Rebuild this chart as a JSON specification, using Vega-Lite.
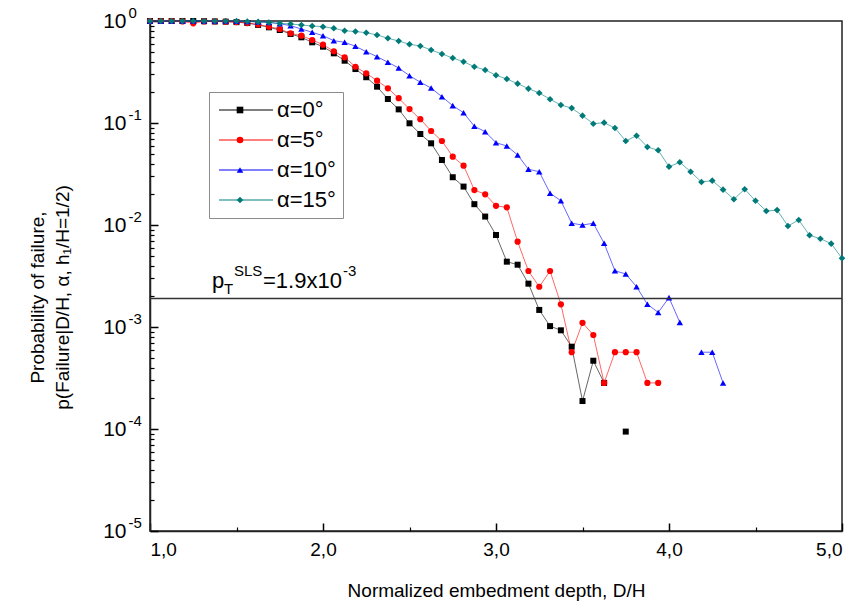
{
"$schema": "https://vega.github.io/schema/vega-lite/v6.json",
"width": 692, "height": 510,
"autosize": {"type": "none"},
"padding": {"left": 150, "top": 21, "right": 17, "bottom": 79},
"config": {"font": "Liberation Sans", "view": {"stroke": "#222222", "strokeWidth": 1.5}},
"datasets": {"one": [{}]},
"data": {"values": [
{"D":1,"p":1,"s":"α=0°","n":0},{"D":1.0625,"p":1,"s":"α=0°","n":0},{"D":1.125,"p":1,"s":"α=0°","n":0},{"D":1.1875,"p":1,"s":"α=0°","n":0},{"D":1.25,"p":1,"s":"α=0°","n":0},{"D":1.3125,"p":0.995,"s":"α=0°","n":0},{"D":1.375,"p":0.99,"s":"α=0°","n":0},{"D":1.4375,"p":0.985,"s":"α=0°","n":0},{"D":1.5,"p":0.975,"s":"α=0°","n":0},{"D":1.5625,"p":0.955,"s":"α=0°","n":0},{"D":1.625,"p":0.915,"s":"α=0°","n":0},{"D":1.6875,"p":0.867,"s":"α=0°","n":0},{"D":1.75,"p":0.816,"s":"α=0°","n":0},{"D":1.8125,"p":0.746,"s":"α=0°","n":0},{"D":1.875,"p":0.692,"s":"α=0°","n":0},{"D":1.9375,"p":0.618,"s":"α=0°","n":0},{"D":2,"p":0.56,"s":"α=0°","n":0},{"D":2.0625,"p":0.482,"s":"α=0°","n":0},{"D":2.125,"p":0.408,"s":"α=0°","n":0},{"D":2.1875,"p":0.338,"s":"α=0°","n":0},{"D":2.25,"p":0.281,"s":"α=0°","n":0},{"D":2.3125,"p":0.227,"s":"α=0°","n":0},{"D":2.375,"p":0.172,"s":"α=0°","n":0},{"D":2.4375,"p":0.136,"s":"α=0°","n":0},{"D":2.5,"p":0.0993,"s":"α=0°","n":0},{"D":2.5625,"p":0.078,"s":"α=0°","n":0},{"D":2.625,"p":0.0632,"s":"α=0°","n":0},{"D":2.6875,"p":0.0434,"s":"α=0°","n":0},{"D":2.75,"p":0.0294,"s":"α=0°","n":0},{"D":2.8125,"p":0.0238,"s":"α=0°","n":0},{"D":2.875,"p":0.016,"s":"α=0°","n":0},{"D":2.9375,"p":0.0121,"s":"α=0°","n":0},{"D":3,"p":0.00798,"s":"α=0°","n":0},{"D":3.0625,"p":0.00437,"s":"α=0°","n":0},{"D":3.125,"p":0.00408,"s":"α=0°","n":0},{"D":3.1875,"p":0.00266,"s":"α=0°","n":0},{"D":3.25,"p":0.00147,"s":"α=0°","n":0},{"D":3.3125,"p":0.00102,"s":"α=0°","n":0},{"D":3.375,"p":0.000928,"s":"α=0°","n":0},{"D":3.4375,"p":0.000641,"s":"α=0°","n":0},{"D":3.5,"p":0.000188,"s":"α=0°","n":0},{"D":3.5625,"p":0.000467,"s":"α=0°","n":0},{"D":3.625,"p":0.000283,"s":"α=0°","n":0},{"D":3.6875,"p":null,"s":"α=0°","n":0},{"D":3.75,"p":0.0000943,"s":"α=0°","n":0},
{"D":1,"p":1,"s":"α=5°","n":5},{"D":1.0625,"p":1,"s":"α=5°","n":5},{"D":1.125,"p":1,"s":"α=5°","n":5},{"D":1.1875,"p":0.99,"s":"α=5°","n":5},{"D":1.25,"p":0.95,"s":"α=5°","n":5},{"D":1.3125,"p":0.99,"s":"α=5°","n":5},{"D":1.375,"p":0.99,"s":"α=5°","n":5},{"D":1.4375,"p":0.985,"s":"α=5°","n":5},{"D":1.5,"p":0.975,"s":"α=5°","n":5},{"D":1.5625,"p":0.955,"s":"α=5°","n":5},{"D":1.625,"p":0.925,"s":"α=5°","n":5},{"D":1.6875,"p":0.88,"s":"α=5°","n":5},{"D":1.75,"p":0.835,"s":"α=5°","n":5},{"D":1.8125,"p":0.757,"s":"α=5°","n":5},{"D":1.875,"p":0.718,"s":"α=5°","n":5},{"D":1.9375,"p":0.651,"s":"α=5°","n":5},{"D":2,"p":0.586,"s":"α=5°","n":5},{"D":2.0625,"p":0.505,"s":"α=5°","n":5},{"D":2.125,"p":0.441,"s":"α=5°","n":5},{"D":2.1875,"p":0.356,"s":"α=5°","n":5},{"D":2.25,"p":0.307,"s":"α=5°","n":5},{"D":2.3125,"p":0.26,"s":"α=5°","n":5},{"D":2.375,"p":0.219,"s":"α=5°","n":5},{"D":2.4375,"p":0.175,"s":"α=5°","n":5},{"D":2.5,"p":0.137,"s":"α=5°","n":5},{"D":2.5625,"p":0.109,"s":"α=5°","n":5},{"D":2.625,"p":0.0835,"s":"α=5°","n":5},{"D":2.6875,"p":0.0666,"s":"α=5°","n":5},{"D":2.75,"p":0.0468,"s":"α=5°","n":5},{"D":2.8125,"p":0.0382,"s":"α=5°","n":5},{"D":2.875,"p":0.022,"s":"α=5°","n":5},{"D":2.9375,"p":0.02,"s":"α=5°","n":5},{"D":3,"p":0.0154,"s":"α=5°","n":5},{"D":3.0625,"p":0.0149,"s":"α=5°","n":5},{"D":3.125,"p":0.00686,"s":"α=5°","n":5},{"D":3.1875,"p":0.00354,"s":"α=5°","n":5},{"D":3.25,"p":0.00248,"s":"α=5°","n":5},{"D":3.3125,"p":0.00354,"s":"α=5°","n":5},{"D":3.375,"p":0.00167,"s":"α=5°","n":5},{"D":3.4375,"p":0.000566,"s":"α=5°","n":5},{"D":3.5,"p":0.0011,"s":"α=5°","n":5},{"D":3.5625,"p":0.000835,"s":"α=5°","n":5},{"D":3.625,"p":0.000283,"s":"α=5°","n":5},{"D":3.6875,"p":0.000566,"s":"α=5°","n":5},{"D":3.75,"p":0.000566,"s":"α=5°","n":5},{"D":3.8125,"p":0.000566,"s":"α=5°","n":5},{"D":3.875,"p":0.000283,"s":"α=5°","n":5},{"D":3.9375,"p":0.000283,"s":"α=5°","n":5},
{"D":1,"p":1,"s":"α=10°","n":10},{"D":1.0625,"p":1,"s":"α=10°","n":10},{"D":1.125,"p":1,"s":"α=10°","n":10},{"D":1.1875,"p":1,"s":"α=10°","n":10},{"D":1.25,"p":1,"s":"α=10°","n":10},{"D":1.3125,"p":1,"s":"α=10°","n":10},{"D":1.375,"p":1,"s":"α=10°","n":10},{"D":1.4375,"p":1,"s":"α=10°","n":10},{"D":1.5,"p":0.995,"s":"α=10°","n":10},{"D":1.5625,"p":0.99,"s":"α=10°","n":10},{"D":1.625,"p":0.98,"s":"α=10°","n":10},{"D":1.6875,"p":0.97,"s":"α=10°","n":10},{"D":1.75,"p":0.94,"s":"α=10°","n":10},{"D":1.8125,"p":0.9,"s":"α=10°","n":10},{"D":1.875,"p":0.835,"s":"α=10°","n":10},{"D":1.9375,"p":0.775,"s":"α=10°","n":10},{"D":2,"p":0.718,"s":"α=10°","n":10},{"D":2.0625,"p":0.641,"s":"α=10°","n":10},{"D":2.125,"p":0.618,"s":"α=10°","n":10},{"D":2.1875,"p":0.565,"s":"α=10°","n":10},{"D":2.25,"p":0.5,"s":"α=10°","n":10},{"D":2.3125,"p":0.447,"s":"α=10°","n":10},{"D":2.375,"p":0.394,"s":"α=10°","n":10},{"D":2.4375,"p":0.346,"s":"α=10°","n":10},{"D":2.5,"p":0.291,"s":"α=10°","n":10},{"D":2.5625,"p":0.251,"s":"α=10°","n":10},{"D":2.625,"p":0.22,"s":"α=10°","n":10},{"D":2.6875,"p":0.181,"s":"α=10°","n":10},{"D":2.75,"p":0.148,"s":"α=10°","n":10},{"D":2.8125,"p":0.126,"s":"α=10°","n":10},{"D":2.875,"p":0.0929,"s":"α=10°","n":10},{"D":2.9375,"p":0.0822,"s":"α=10°","n":10},{"D":3,"p":0.0641,"s":"α=10°","n":10},{"D":3.0625,"p":0.0595,"s":"α=10°","n":10},{"D":3.125,"p":0.0486,"s":"α=10°","n":10},{"D":3.1875,"p":0.0352,"s":"α=10°","n":10},{"D":3.25,"p":0.0333,"s":"α=10°","n":10},{"D":3.3125,"p":0.0205,"s":"α=10°","n":10},{"D":3.375,"p":0.0173,"s":"α=10°","n":10},{"D":3.4375,"p":0.0104,"s":"α=10°","n":10},{"D":3.5,"p":0.01,"s":"α=10°","n":10},{"D":3.5625,"p":0.0104,"s":"α=10°","n":10},{"D":3.625,"p":0.00662,"s":"α=10°","n":10},{"D":3.6875,"p":0.00356,"s":"α=10°","n":10},{"D":3.75,"p":0.00331,"s":"α=10°","n":10},{"D":3.8125,"p":0.00248,"s":"α=10°","n":10},{"D":3.875,"p":0.00167,"s":"α=10°","n":10},{"D":3.9375,"p":0.00139,"s":"α=10°","n":10},{"D":4,"p":0.00194,"s":"α=10°","n":10},{"D":4.0625,"p":0.00111,"s":"α=10°","n":10},{"D":4.125,"p":null,"s":"α=10°","n":10},{"D":4.1875,"p":0.000566,"s":"α=10°","n":10},{"D":4.25,"p":0.000566,"s":"α=10°","n":10},{"D":4.3125,"p":0.000283,"s":"α=10°","n":10},
{"D":1,"p":1,"s":"α=15°","n":15},{"D":1.0625,"p":1,"s":"α=15°","n":15},{"D":1.125,"p":1,"s":"α=15°","n":15},{"D":1.1875,"p":1,"s":"α=15°","n":15},{"D":1.25,"p":1,"s":"α=15°","n":15},{"D":1.3125,"p":1,"s":"α=15°","n":15},{"D":1.375,"p":1,"s":"α=15°","n":15},{"D":1.4375,"p":1,"s":"α=15°","n":15},{"D":1.5,"p":1,"s":"α=15°","n":15},{"D":1.5625,"p":0.99,"s":"α=15°","n":15},{"D":1.625,"p":0.98,"s":"α=15°","n":15},{"D":1.6875,"p":0.965,"s":"α=15°","n":15},{"D":1.75,"p":0.949,"s":"α=15°","n":15},{"D":1.8125,"p":0.935,"s":"α=15°","n":15},{"D":1.875,"p":0.914,"s":"α=15°","n":15},{"D":1.9375,"p":0.893,"s":"α=15°","n":15},{"D":2,"p":0.879,"s":"α=15°","n":15},{"D":2.0625,"p":0.848,"s":"α=15°","n":15},{"D":2.125,"p":0.803,"s":"α=15°","n":15},{"D":2.1875,"p":0.789,"s":"α=15°","n":15},{"D":2.25,"p":0.768,"s":"α=15°","n":15},{"D":2.3125,"p":0.729,"s":"α=15°","n":15},{"D":2.375,"p":0.677,"s":"α=15°","n":15},{"D":2.4375,"p":0.637,"s":"α=15°","n":15},{"D":2.5,"p":0.591,"s":"α=15°","n":15},{"D":2.5625,"p":0.569,"s":"α=15°","n":15},{"D":2.625,"p":0.52,"s":"α=15°","n":15},{"D":2.6875,"p":0.475,"s":"α=15°","n":15},{"D":2.75,"p":0.434,"s":"α=15°","n":15},{"D":2.8125,"p":0.399,"s":"α=15°","n":15},{"D":2.875,"p":0.356,"s":"α=15°","n":15},{"D":2.9375,"p":0.331,"s":"α=15°","n":15},{"D":3,"p":0.294,"s":"α=15°","n":15},{"D":3.0625,"p":0.27,"s":"α=15°","n":15},{"D":3.125,"p":0.243,"s":"α=15°","n":15},{"D":3.1875,"p":0.217,"s":"α=15°","n":15},{"D":3.25,"p":0.197,"s":"α=15°","n":15},{"D":3.3125,"p":0.171,"s":"α=15°","n":15},{"D":3.375,"p":0.15,"s":"α=15°","n":15},{"D":3.4375,"p":0.14,"s":"α=15°","n":15},{"D":3.5,"p":0.118,"s":"α=15°","n":15},{"D":3.5625,"p":0.0984,"s":"α=15°","n":15},{"D":3.625,"p":0.1007,"s":"α=15°","n":15},{"D":3.6875,"p":0.0893,"s":"α=15°","n":15},{"D":3.75,"p":0.0666,"s":"α=15°","n":15},{"D":3.8125,"p":0.075,"s":"α=15°","n":15},{"D":3.875,"p":0.0582,"s":"α=15°","n":15},{"D":3.9375,"p":0.054,"s":"α=15°","n":15},{"D":4,"p":0.0373,"s":"α=15°","n":15},{"D":4.0625,"p":0.0412,"s":"α=15°","n":15},{"D":4.125,"p":0.0333,"s":"α=15°","n":15},{"D":4.1875,"p":0.0264,"s":"α=15°","n":15},{"D":4.25,"p":0.0272,"s":"α=15°","n":15},{"D":4.3125,"p":0.0222,"s":"α=15°","n":15},{"D":4.375,"p":0.0179,"s":"α=15°","n":15},{"D":4.4375,"p":0.0224,"s":"α=15°","n":15},{"D":4.5,"p":0.0173,"s":"α=15°","n":15},{"D":4.5625,"p":0.0137,"s":"α=15°","n":15},{"D":4.625,"p":0.014,"s":"α=15°","n":15},{"D":4.6875,"p":0.00977,"s":"α=15°","n":15},{"D":4.75,"p":0.0112,"s":"α=15°","n":15},{"D":4.8125,"p":0.00793,"s":"α=15°","n":15},{"D":4.875,"p":0.00734,"s":"α=15°","n":15},{"D":4.9375,"p":0.00656,"s":"α=15°","n":15},{"D":5,"p":0.00472,"s":"α=15°","n":15}
]},
"layer": [
{"mark": {"type": "line", "strokeWidth": 1, "strokeOpacity": 0.6, "invalid": "break-paths-filter-domains"},
 "encoding": {
  "x": {"field": "D", "type": "quantitative", "scale": {"domain": [1, 5], "nice": false, "zero": false},
        "axis": {"values": [1, 2, 3, 4, 5], "labelExpr": "replace(format(datum.value, '.1f'), '.', ',')", "labelFontSize": 19, "labelColor": "#000000", "labelPadding": 17, "tickSize": -8, "tickColor": "#000000", "tickWidth": 1.5, "domainColor": "#222222", "domainWidth": 1.5, "grid": false, "title": "Normalized embedment depth, D/H", "titleFontSize": 19, "titleFontWeight": "normal", "titleColor": "#000000", "titlePadding": 22, "orient": "bottom"}},
  "y": {"field": "p", "type": "quantitative", "scale": {"type": "log", "domain": [0.00001, 1], "nice": false},
        "axis": {"values": [0.00001, 0.0001, 0.001, 0.01, 0.1, 1], "labelExpr": "'10'", "labelFontSize": 21, "labelColor": "#000000", "labelPadding": 32, "tickSize": -8, "tickColor": "#000000", "tickWidth": 1.5, "domainColor": "#222222", "domainWidth": 1.5, "grid": false, "title": ["Probability of failure,", "p(Failure|D/H, α, h₁/H=1/2)"], "titleFontSize": 19, "titleFontWeight": "normal", "titleColor": "#000000", "titlePadding": 30, "titleLineHeight": 25, "titleY": 276, "orient": "left"}},
  "stroke": {"field": "s", "type": "nominal", "scale": {"domain": ["α=0°", "α=5°", "α=10°", "α=15°"], "range": ["#000000", "#ff0000", "#0000ff", "#008080"]},
        "legend": {"orient": "none", "legendX": 59, "legendY": 71, "title": null, "symbolType": "M-9,0H9", "symbolSize": 36, "symbolStrokeWidth": 1.2, "symbolOffset": 19, "labelFontSize": 22, "labelColor": "#000000", "labelOffset": 20, "rowPadding": 8, "padding": 7, "clipHeight": 22, "strokeColor": "#8c8c8c", "fillColor": "#ffffff"}}
 }},
{"mark": {"type": "point", "filled": true, "opacity": 1},
 "encoding": {
  "x": {"field": "D", "type": "quantitative", "axis": {"values": [1.5, 2.5, 3.5, 4.5], "labels": false, "domain": false, "tickSize": -4, "tickColor": "#000000", "tickWidth": 1.2, "grid": false, "title": null, "orient": "bottom"}},
  "y": {"field": "p", "type": "quantitative", "axis": {"values": [0.00002,0.00003,0.00004,0.00005,0.00006,0.00007,0.00008,0.00009,0.0002,0.0003,0.0004,0.0005,0.0006,0.0007,0.0008,0.0009,0.002,0.003,0.004,0.005,0.006,0.007,0.008,0.009,0.02,0.03,0.04,0.05,0.06,0.07,0.08,0.09,0.2,0.3,0.4,0.5,0.6,0.7,0.8,0.9], "labels": false, "domain": false, "tickSize": -4, "tickColor": "#000000", "tickWidth": 1.2, "grid": false, "title": null, "orient": "left"}},
  "size": {"field": "n", "type": "ordinal", "scale": {"domain": [0, 5, 10, 15], "range": [36, 44, 52, 60]}, "legend": null},
  "fill": {"field": "n", "type": "nominal", "scale": {"domain": [0, 5, 10, 15], "range": ["#000000", "#ff0000", "#0000ff", "#007a78"]},
        "legend": {"orient": "none", "legendX": 59, "legendY": 71, "title": null, "symbolSize": 44, "symbolOffset": 13, "symbolStrokeWidth": 0, "labelFontSize": 22, "labelExpr": "''", "labelOffset": 20, "rowPadding": 8, "padding": 7, "clipHeight": 22}},
  "shape": {"field": "n", "type": "nominal", "scale": {"domain": [0, 5, 10, 15], "range": ["square", "circle", "triangle-up", "diamond"]},
        "legend": {"orient": "none", "legendX": 59, "legendY": 71, "title": null, "symbolSize": 44, "symbolOffset": 13, "symbolStrokeWidth": 0, "labelFontSize": 22, "labelExpr": "''", "labelOffset": 20, "rowPadding": 8, "padding": 7, "clipHeight": 22}}
 }},
{"data": {"name": "one"}, "mark": {"type": "rule", "color": "#333333", "strokeWidth": 1.5},
 "encoding": {"y": {"datum": 0.0019, "type": "quantitative", "axis": {"values": [0.00001, 0.0001, 0.001, 0.01, 0.1, 1], "labelExpr": "datum.value > 0.5 ? '0' : datum.value > 0.05 ? '-1' : datum.value > 0.005 ? '-2' : datum.value > 0.0005 ? '-3' : datum.value > 0.00005 ? '-4' : '-5'", "labelAlign": "left", "labelFontSize": 15, "labelColor": "#000000", "labelPadding": 22, "labelOffset": -9, "ticks": false, "tickSize": 0, "domain": false, "grid": false, "title": null, "orient": "left"}}}},
{"data": {"name": "one"}, "mark": {"type": "text", "text": "p", "fontSize": 22, "align": "left", "baseline": "alphabetic", "dx": 62, "dy": -11, "color": "#000000"},
 "encoding": {"x": {"datum": 1, "type": "quantitative", "axis": null}, "y": {"datum": 0.0019, "type": "quantitative", "axis": null}}},
{"data": {"name": "one"}, "mark": {"type": "text", "text": "T", "fontSize": 15, "align": "left", "baseline": "alphabetic", "dx": 74, "dy": -5, "color": "#000000"},
 "encoding": {"x": {"datum": 1, "type": "quantitative", "axis": null}, "y": {"datum": 0.0019, "type": "quantitative", "axis": null}}},
{"data": {"name": "one"}, "mark": {"type": "text", "text": "SLS", "fontSize": 15, "align": "left", "baseline": "alphabetic", "dx": 84, "dy": -23, "color": "#000000"},
 "encoding": {"x": {"datum": 1, "type": "quantitative", "axis": null}, "y": {"datum": 0.0019, "type": "quantitative", "axis": null}}},
{"data": {"name": "one"}, "mark": {"type": "text", "text": "=1.9x10", "fontSize": 22, "align": "left", "baseline": "alphabetic", "dx": 113, "dy": -11, "color": "#000000"},
 "encoding": {"x": {"datum": 1, "type": "quantitative", "axis": null}, "y": {"datum": 0.0019, "type": "quantitative", "axis": null}}},
{"data": {"name": "one"}, "mark": {"type": "text", "text": "-3", "fontSize": 15, "align": "left", "baseline": "alphabetic", "dx": 193, "dy": -23, "color": "#000000"},
 "encoding": {"x": {"datum": 1, "type": "quantitative", "axis": null}, "y": {"datum": 0.0019, "type": "quantitative", "axis": null}}}
],
"resolve": {"axis": {"x": "independent", "y": "independent"}, "legend": {"fill": "independent", "shape": "independent", "stroke": "independent"}}
}
